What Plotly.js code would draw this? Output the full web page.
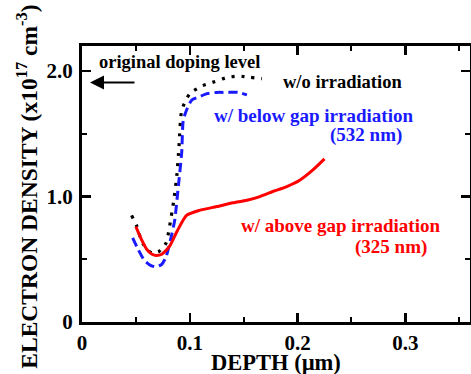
<!DOCTYPE html>
<html>
<head>
<meta charset="utf-8">
<script src="https://cdn.plot.ly/plotly-3.0.1.min.js"></script>
<style>html,body{margin:0;padding:0;background:#fff;}#chart{width:471px;height:374px;}</style>
</head>
<body>
<div id="chart"></div>
<script>
// Depth (µm) and electron density (x10^17 cm^-3)
const woX = [0.046, 0.051, 0.055, 0.060, 0.065, 0.071, 0.078, 0.081, 0.085, 0.088, 0.090, 0.0926, 0.100, 0.111, 0.121, 0.135, 0.146, 0.156, 0.167];
const woY = [0.85, 0.76, 0.65, 0.58, 0.55, 0.56, 0.63, 0.75, 0.96, 1.17, 1.40, 1.69, 1.82, 1.88, 1.91, 1.95, 1.96, 1.95, 1.94];

const belowX = [0.047, 0.052, 0.058, 0.064, 0.069, 0.074, 0.078, 0.082, 0.086, 0.089, 0.0925, 0.094, 0.098, 0.102, 0.110, 0.116, 0.125, 0.134, 0.145, 0.153];
const belowY = [0.67, 0.58, 0.49, 0.45, 0.44, 0.46, 0.52, 0.65, 0.81, 1.05, 1.35, 1.61, 1.71, 1.77, 1.80, 1.82, 1.83, 1.83, 1.83, 1.81];

const aboveX = [0.050, 0.055, 0.060, 0.065, 0.069, 0.074, 0.081, 0.088, 0.097, 0.109, 0.125, 0.140, 0.153, 0.165, 0.177, 0.190, 0.202, 0.214, 0.225];
const aboveY = [0.76, 0.66, 0.58, 0.54, 0.53, 0.54, 0.60, 0.72, 0.85, 0.89, 0.92, 0.95, 0.97, 1.00, 1.04, 1.08, 1.13, 1.21, 1.30];

const xTickVals = [0, 0.1, 0.2, 0.3];
const xTickText = ['0', '0.1', '0.2', '0.3'];
const yTickVals = [0, 1, 2];
const yTickText = ['0', '1.0', '2.0'];

const FONT = 'Liberation Serif, Times New Roman, serif';

const traces = [
  {x: woX, y: woY, mode: 'lines', line: {color: '#000000', width: 3.2, dash: '3px,7px', shape: 'spline', smoothing: 0.6}, hoverinfo: 'skip'},
  {x: belowX, y: belowY, mode: 'lines', line: {color: '#1a1aff', width: 3, dash: '9px,5px', shape: 'spline', smoothing: 0.6}, hoverinfo: 'skip'},
  {x: aboveX, y: aboveY, mode: 'lines', line: {color: '#ff0000', width: 3, shape: 'spline', smoothing: 0.6}, hoverinfo: 'skip'}
];

const axisCommon = {
  showline: true, linecolor: '#000', linewidth: 3, mirror: 'allticks',
  ticks: 'inside', ticklen: 9, tickwidth: 2.5, tickcolor: '#000',
  showgrid: false, zeroline: false, fixedrange: true,
  tickfont: {family: FONT, size: 21, color: '#000', weight: 'bold'}
};

const layout = {
  width: 471, height: 374,
  margin: {l: 82, r: 1, t: 46, b: 52, pad: 0},
  paper_bgcolor: '#fff', plot_bgcolor: '#fff',
  showlegend: false,
  font: {family: FONT, color: '#000'},
  xaxis: Object.assign({}, axisCommon, {
    range: [0, 0.36], tickvals: xTickVals, ticktext: xTickText,
    minor: {dtick: 0.05, ticks: 'inside', ticklen: 5, tickwidth: 2, tickcolor: '#000'},
    ticklabelstandoff: 0
  }),
  yaxis: Object.assign({}, axisCommon, {
    range: [0, 2.2], tickvals: yTickVals, ticktext: yTickText,
    minor: {dtick: 0.5, ticks: 'inside', ticklen: 5, tickwidth: 2, tickcolor: '#000'},
    ticklabelstandoff: 2
  }),
  annotations: [
    {xref: 'paper', yref: 'paper', x: 0.5, y: -0.148, xanchor: 'center', yanchor: 'middle', showarrow: false,
     text: 'DEPTH (µm)', font: {family: FONT, size: 22.5, color: '#000', weight: 'bold'}},
    {xref: 'paper', yref: 'paper', x: -0.142, y: 0.49, xanchor: 'center', yanchor: 'middle', showarrow: false, textangle: -90,
     text: 'ELECTRON DENSITY (x10<sup>17</sup> cm<sup>-3</sup>)', font: {family: FONT, size: 23.5, color: '#000', weight: 'bold'}},
    {x: 0.0139, y: 2.07, xanchor: 'left', yanchor: 'middle', showarrow: false,
     text: 'original doping level', font: {family: FONT, size: 18.5, color: '#000', weight: 'bold'}},
    {x: 0.0074, y: 1.91, ax: 46, ay: 0, showarrow: true, arrowhead: 2, arrowsize: 1.4, arrowwidth: 2, arrowcolor: '#000', text: ''},
    {x: 0.185, y: 1.91, xanchor: 'left', yanchor: 'middle', showarrow: false,
     text: 'w/o irradiation', font: {family: FONT, size: 18.5, color: '#000', weight: 'bold'}},
    {x: 0.121, y: 1.65, xanchor: 'left', yanchor: 'middle', showarrow: false,
     text: 'w/ below gap irradiation', font: {family: FONT, size: 19, color: '#1a1aff', weight: 'bold'}},
    {x: 0.299, y: 1.49, xanchor: 'right', yanchor: 'middle', showarrow: false,
     text: '(532 nm)', font: {family: FONT, size: 19, color: '#1a1aff', weight: 'bold'}},
    {x: 0.1454, y: 0.773, xanchor: 'left', yanchor: 'middle', showarrow: false,
     text: 'w/ above gap irradiation', font: {family: FONT, size: 19, color: '#ff0000', weight: 'bold'}},
    {x: 0.322, y: 0.598, xanchor: 'right', yanchor: 'middle', showarrow: false,
     text: '(325 nm)', font: {family: FONT, size: 19, color: '#ff0000', weight: 'bold'}}
  ]
};

Plotly.newPlot('chart', traces, layout, {staticPlot: true, displayModeBar: false});
</script>
</body>
</html>
